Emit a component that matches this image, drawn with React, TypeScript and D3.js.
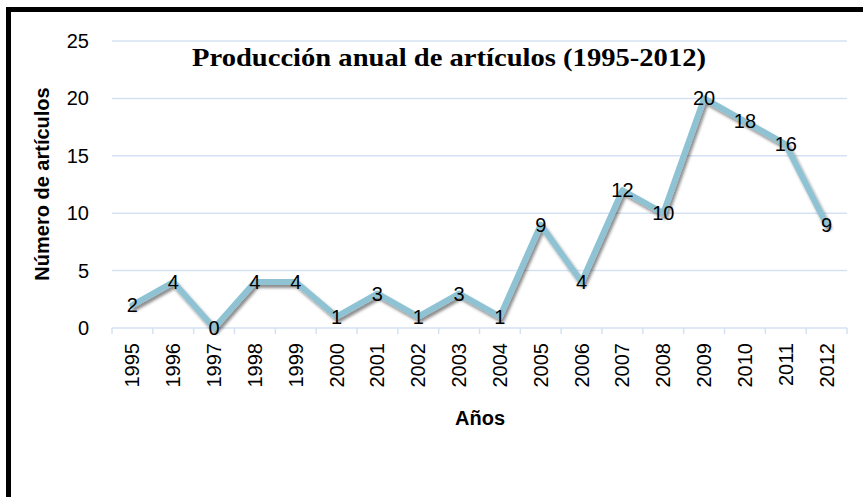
import React from 'react';
import * as d3 from 'd3';

const years = ['1995', '1996', '1997', '1998', '1999', '2000', '2001', '2002', '2003', '2004', '2005', '2006', '2007', '2008', '2009', '2010', '2011', '2012'];
const articles = [2, 4, 0, 4, 4, 1, 3, 1, 3, 1, 9, 4, 12, 10, 20, 18, 16, 9];
const yTicks = [0, 5, 10, 15, 20, 25];

const W = 863;
const H = 497;
const plot = { left: 112, right: 847, top: 41, bottom: 328 };
const sans = '"Liberation Sans", Arial, sans-serif';

export default function App() {
  const x = d3.scaleBand().domain(years).range([plot.left, plot.right]);
  const y = d3.scaleLinear().domain([0, 25]).range([plot.bottom, plot.top]);

  const line = d3.line<number>()
    .x((_, i) => (x(years[i]) as number) + x.bandwidth() / 2)
    .y(d => y(d));

  const boundaries = years.map(yr => x(yr) as number).concat([plot.right]);

  return (
    <svg width={W} height={H} style={{ position: 'absolute', left: 0, top: 0, background: '#fff' }}>
      <defs>
        <filter id="shadow" x="-10%" y="-10%" width="120%" height="130%">
          <feDropShadow dx="2" dy="3" stdDeviation="1.6" floodColor="#000" floodOpacity="0.45" />
        </filter>
      </defs>

      {/* outer frame (right and bottom sides fall outside the picture) */}
      <rect x={8.5} y={9.5} width={W + 20} height={H + 20} fill="none" stroke="#000" strokeWidth={5} />

      {/* gridlines */}
      {yTicks.filter(t => t > 0).map(t => (
        <line key={t} x1={plot.left} x2={plot.right} y1={y(t)} y2={y(t)} stroke="#d5e2f3" strokeWidth={1.5} />
      ))}

      {/* x axis */}
      <line x1={plot.left} x2={plot.right} y1={y(0)} y2={y(0)} stroke="#d5e2f3" strokeWidth={1.5} />
      {boundaries.map((bx, i) => (
        <line key={i} x1={bx} x2={bx} y1={y(0)} y2={y(0) + 6} stroke="#d5e2f3" strokeWidth={1.5} />
      ))}

      {/* y tick labels */}
      {yTicks.map(t => (
        <text key={t} x={89} y={y(t)} dy="0.35em" textAnchor="end" fontFamily={sans} fontSize={20} fill="#000">{t}</text>
      ))}

      {/* year labels */}
      {years.map(yr => {
        const cx = (x(yr) as number) + x.bandwidth() / 2;
        return (
          <text key={yr} transform={`translate(${cx},343) rotate(-90)`} dy="0.35em" textAnchor="end"
            fontFamily={sans} fontSize={20} fill="#000">{yr}</text>
        );
      })}

      {/* title */}
      <text x={449} y={66} textAnchor="middle" fontFamily='"Liberation Serif", "Times New Roman", serif'
        fontWeight="bold" fontSize={25} textLength={514} lengthAdjust="spacingAndGlyphs" fill="#000">
        Producción anual de artículos (1995-2012)
      </text>

      {/* axis titles */}
      <text transform="translate(42,184) rotate(-90)" dy="0.35em" textAnchor="middle" fontFamily={sans}
        fontWeight="bold" fontSize={20} fill="#000">Número de artículos</text>
      <text x={480} y={425} textAnchor="middle" fontFamily={sans} fontWeight="bold" fontSize={20} fill="#000">Años</text>

      {/* series */}
      <path d={line(articles) ?? ''} fill="none" stroke="#8fc3d4" strokeWidth={6} strokeLinejoin="round"
        strokeLinecap="round" filter="url(#shadow)" />

      {/* data labels */}
      {articles.map((v, i) => (
        <text key={i} x={(x(years[i]) as number) + x.bandwidth() / 2} y={y(v)} dy="0.35em" textAnchor="middle"
          fontFamily={sans} fontSize={20} fill="#000">{v}</text>
      ))}
    </svg>
  );
}
